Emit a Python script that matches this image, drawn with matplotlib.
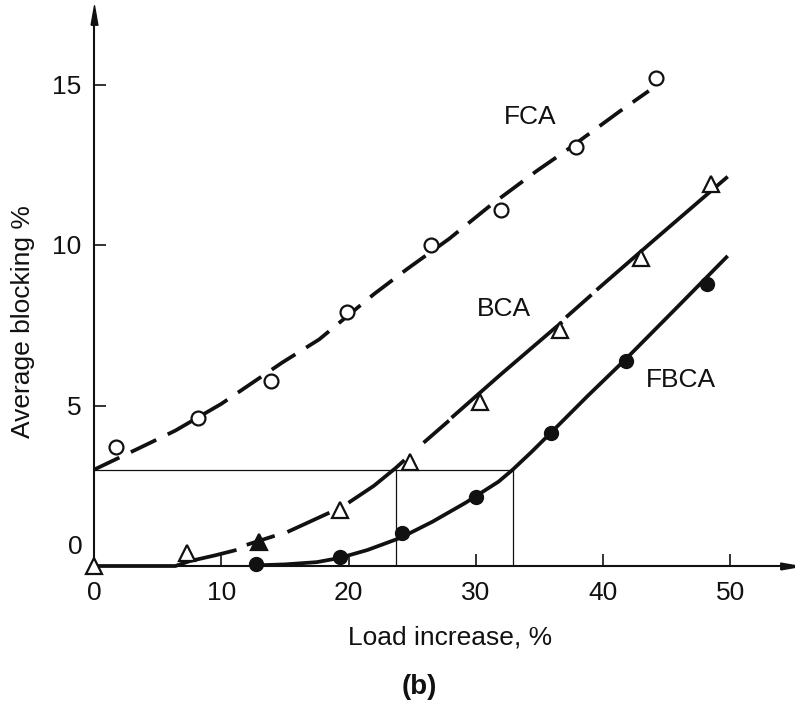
import matplotlib
matplotlib.use("Agg")
import matplotlib.pyplot as plt

plt.rcParams['font.family'] = ['Liberation Sans', 'DejaVu Sans']

# ---------------- data ----------------
x_ticks = [0, 10, 20, 30, 40, 50]
y_ticks = [5, 10, 15]

# FCA: open circles, dashed curve
fca_x = [1.7, 8.2, 13.9, 19.9, 26.5, 32.0, 37.9, 44.2]
fca_y = [3.7, 4.6, 5.75, 7.9, 10.0, 11.1, 13.05, 15.2]
fca_line_x = [0, 3.8, 6.4, 10.0, 14.8, 17.7, 22.0, 24.6, 27.9, 31.3, 34.8, 37.1, 41.3, 43.6]
fca_line_y = [3.0, 3.72, 4.22, 5.05, 6.34, 7.06, 8.47, 9.25, 10.19, 11.28, 12.31, 12.94, 14.16, 14.8]

# BCA: open triangles (one filled), broken curve
bca_x = [0, 7.3, 19.3, 24.8, 30.3, 36.6, 43.0, 48.5]
bca_y = [0.0, 0.4, 1.75, 3.25, 5.1, 7.35, 9.6, 11.9]
bca_filled_x = [13.0]
bca_filled_y = [0.75]
bca_line_x = [0, 6.4, 7.5, 9.5, 11.2, 12.0, 14.2, 15.2, 18.5, 20.0, 22.0, 23.7, 24.4,
              25.9, 27.9, 28.1, 32.0, 36.3, 36.8, 37.1, 39.1, 39.5, 44.0, 49.8]
bca_line_y = [0, 0, 0.15, 0.33, 0.5, 0.66, 0.94, 1.06, 1.66, 1.97, 2.5, 3.05, 3.3,
              3.84, 4.53, 4.62, 5.98, 7.44, 7.6, 7.75, 8.45, 8.6, 10.15, 12.13]
bca_pieces = [(0, 4), (5, 6), (7, 8), (9, 12), (13, 14), (15, 18), (19, 20), (21, 23)]

# FBCA: filled circles, solid curve
fbca_x = [12.7, 19.3, 24.2, 30.0, 35.9, 41.8, 48.2]
fbca_y = [0.05, 0.28, 1.03, 2.16, 4.15, 6.4, 8.78]
fbca_line_x = [12.8, 15, 17.5, 19.3, 21.5, 24.1, 26.6, 29.2, 31.8, 32.9, 34.4, 35.9, 38.8, 41.8, 45.8, 49.8]
fbca_line_y = [0.02, 0.05, 0.12, 0.25, 0.5, 0.88, 1.38, 1.97, 2.63, 3.0, 3.56, 4.15, 5.3, 6.45, 8.05, 9.66]

# reference construction lines
ref_level = 3.0
ref_x = [23.7, 32.9]

labels = ["FCA", "BCA", "FBCA"]
label_x = [34.3, 32.2, 46.1]
label_y = [14.0, 8.0, 5.8]

# ---------------- figure ----------------
W, H = 795, 706
fig = plt.figure(figsize=(W / 100, H / 100), dpi=100)
ax = fig.add_axes([94 / W, 140 / H, 696 / W, 551 / H])
ax.set_xlim(0, 696 / 12.725)
ax.set_ylim(0, 551 / 32.1)

ink = '#111111'
FS = 19

for s in ['top', 'right']:
    ax.spines[s].set_visible(False)
for s in ['left', 'bottom']:
    ax.spines[s].set_linewidth(1.5)
    ax.spines[s].set_color(ink)

# arrow heads
ax.plot(1, 0, marker=[(-1, -0.35), (1, 0), (-1, 0.35), (-1, -0.35)], ms=14, color=ink,
        transform=ax.transAxes, clip_on=False)
ax.plot(0, 1, marker=[(-0.35, -1), (0, 1), (0.35, -1), (-0.35, -1)], ms=14, color=ink,
        transform=ax.transAxes, clip_on=False)

ax.set_xticks(x_ticks)
ax.set_xticklabels([str(v) for v in x_ticks])
ax.set_yticks(y_ticks)
ax.set_yticklabels([str(v) for v in y_ticks])
ax.tick_params(axis='both', direction='in', length=8.5, width=1.2, colors=ink, labelsize=FS)
ax.tick_params(axis='x', pad=11)
ax.tick_params(axis='y', pad=9)
ax.annotate('0', xy=(0, 0), xytext=(-8.5, 13.5), textcoords='offset points',
            ha='right', va='center', fontsize=FS, color=ink, annotation_clip=False)

# reference lines
ax.plot([0, ref_x[1]], [ref_level, ref_level], color=ink, lw=0.9, zorder=2)
for rx in ref_x:
    ax.plot([rx, rx], [0, ref_level], color=ink, lw=0.9, zorder=2)

LW = 2.7
# FCA
fl, = ax.plot(fca_line_x, fca_line_y, color=ink, lw=LW, zorder=3, solid_capstyle='butt',
              dash_capstyle='butt')
fl.set_dashes((7.5, 3.4))
ax.plot(fca_x, fca_y, 'o', ms=10, mfc='white', mec=ink, mew=1.6, zorder=4, clip_on=False)

# BCA
for a, b in bca_pieces:
    ax.plot(bca_line_x[a:b + 1], bca_line_y[a:b + 1], color=ink, lw=LW, zorder=3,
            solid_capstyle='butt', clip_on=False)
ax.plot(bca_x, bca_y, '^', ms=11, mfc='white', mec=ink, mew=1.6, zorder=4, clip_on=False)
ax.plot(bca_filled_x, bca_filled_y, '^', ms=11, mfc=ink, mec=ink, mew=1.6, zorder=4, clip_on=False)

# FBCA
ax.plot(fbca_line_x, fbca_line_y, color=ink, lw=LW, zorder=3, solid_capstyle='butt', clip_on=False)
ax.plot(fbca_x, fbca_y, 'o', ms=10, mfc=ink, mec=ink, zorder=4, clip_on=False)

for t, lx, ly in zip(labels, label_x, label_y):
    ax.text(lx, ly, t, ha='center', va='center', fontsize=FS, color=ink)

fig.text(23 / W, 1 - 322 / H, 'Average blocking %', rotation=90, ha='center', va='center',
         fontsize=FS, color=ink)
fig.text(450 / W, 1 - 638 / H, 'Load increase, %', ha='center', va='center', fontsize=FS, color=ink)
fig.text(419 / W, 1 - 687 / H, '(b)', ha='center', va='center', fontsize=FS + 1,
         fontweight='bold', color=ink)

fig.savefig('out.png', dpi=100)
